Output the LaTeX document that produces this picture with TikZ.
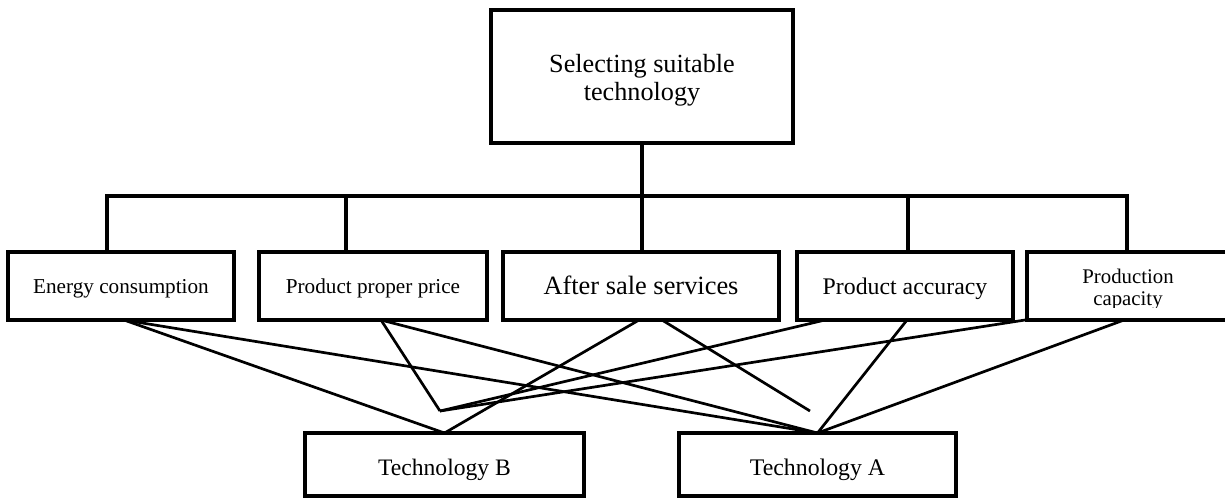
\documentclass[tikz,border=0pt]{standalone}
\usepackage{fontspec}
\setmainfont{Liberation Serif}
\usetikzlibrary{calc}
\begin{document}
\begin{tikzpicture}[x=0.5pt,y=-0.5pt,
  box/.style={draw, line width=1.9pt, inner sep=0pt, outer sep=0pt, align=center},
  crit/.style={box, text height=20.5pt, text depth=13.5pt},
  alt/.style={box, text height=21pt, text depth=10.5pt},
  tree/.style={line width=1.7pt},
  link/.style={line width=1.35pt}]
\useasboundingbox (0,0) rectangle (1225,500);

% goal (baseline of a multi-line node is its last line)
\node[box, minimum width=151pt, text height=45pt, text depth=21.5pt,
      font=\fontsize{13.1}{14}\selectfont] (goal) at (642,76.5)
      {Selecting suitable\\technology};

% criteria
\node[crit, minimum width=113pt, font=\fontsize{10.6}{12}\selectfont]
      (energy) at (121,286) {Energy consumption};
\node[crit, minimum width=114pt, font=\fontsize{10.6}{12}\selectfont]
      (price) at (373,286) {Product proper price};
\node[box, minimum width=138pt, text height=21pt, text depth=13pt,
      font=\fontsize{13.2}{15}\selectfont]
      (after) at (641,286) {After sale services};
\node[box, minimum width=108pt, text height=21pt, text depth=13pt,
      font=\fontsize{11.9}{14}\selectfont]
      (accuracy) at (905,286) {Product accuracy};
\node[box, minimum width=101pt, minimum height=34pt] (capacity) at (1128,286) {};
\begin{scope}
  \clip (capacity.north west) rectangle ($(capacity.south east)+(0,-13)$);
  \node[inner sep=0pt, align=center, text height=26.5pt, text depth=7.5pt,
        font=\fontsize{10.4}{11}\selectfont] (capacitytext) at (1128,286)
        {Production\\capacity};
\end{scope}

% alternatives
\node[alt, minimum width=139.5pt, font=\fontsize{11.8}{14}\selectfont]
      (techB) at (444.5,464.5) {Technology B};
\node[alt, minimum width=138.5pt, font=\fontsize{11.9}{14}\selectfont]
      (techA) at (817.5,464.5) {Technology A};

% hierarchy bus
\coordinate (b1) at (107,196);
\coordinate (b2) at (346,196);
\coordinate (b3) at (642,196);
\coordinate (b4) at (908,196);
\coordinate (b5) at (1127,196);
\draw[tree] (goal.south) -- (b3) -- (b3 |- after.north);
\draw[tree] (b1 |- energy.north) -- (b1) -- (b5) -- (b5 |- capacity.north);
\draw[tree] (b2) -- (b2 |- price.north);
\draw[tree] (b4) -- (b4 |- accuracy.north);

% criteria to alternatives
\coordinate (v) at (440,411);
\coordinate (d) at (810,411);
\draw[link] ([xshift=1.5pt]energy.south) -- (techB.north);
\draw[link] ([xshift=1.5pt]energy.south) -- (techA.north);
\draw[link] ([xshift=4pt]price.south) -- (v);
\draw[link] ([xshift=4pt]price.south) -- (techA.north);
\draw[link] ([xshift=-1pt]after.south) -- (techB.north);
\draw[link] ([xshift=10.5pt]after.south) -- (d);
\draw[link] ([xshift=-40pt]accuracy.south) -- (v);
\draw[link] ([xshift=1pt]accuracy.south) -- (techA.north);
\draw[link] ([xshift=-1pt]capacity.south west) -- (v);
\draw[link] ([xshift=-2pt]capacity.south) -- (techA.north);
\end{tikzpicture}
\end{document}
